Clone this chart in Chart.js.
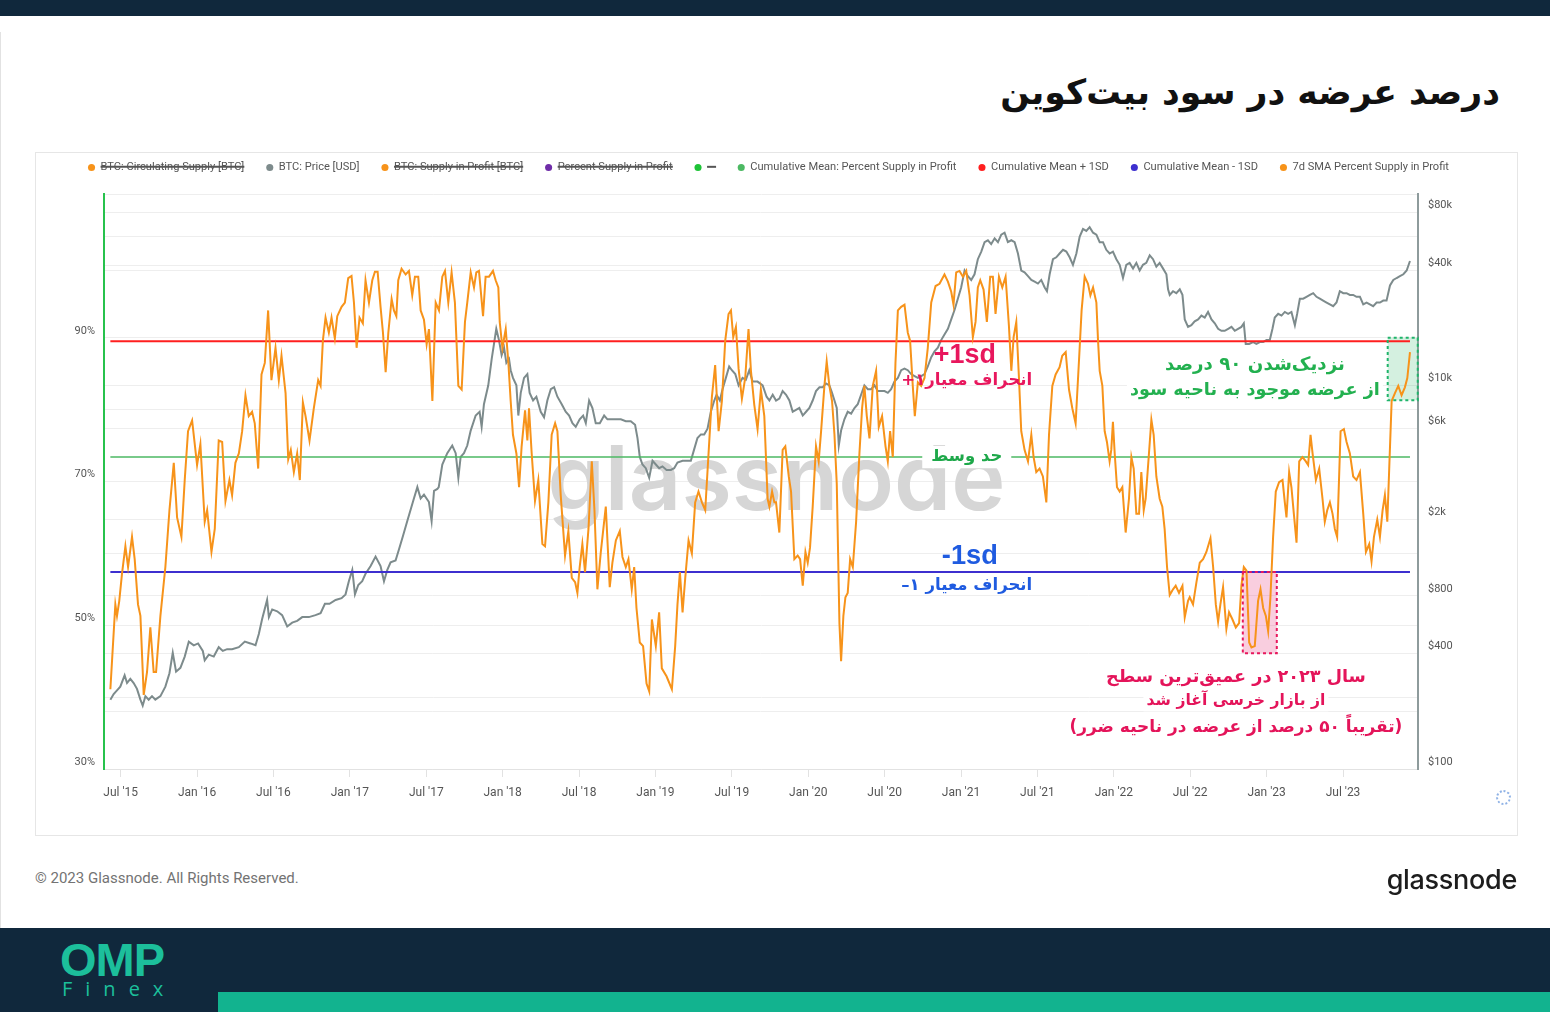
<!DOCTYPE html>
<html lang="fa">
<head>
<meta charset="utf-8">
<title>درصد عرضه در سود بیت‌کوین</title>
<script src="https://cdn.jsdelivr.net/npm/chart.js@4.4.1/dist/chart.umd.min.js"></script>
<style>
  html, body { margin: 0; padding: 0; }
  body { width: 1550px; height: 1012px; position: relative; overflow: hidden; background: #fff; font-family: Roboto, "DejaVu Sans", sans-serif; }
  #topbar { position: absolute; left: 0; top: 0; width: 1550px; height: 16px; background: #10283c; }
  #edge { position: absolute; left: 0; top: 32px; width: 1px; height: 896px; background: #e2e2e2; }
  #title { position: absolute; right: 50px; top: 62px; height: 60px; line-height: 60px; direction: rtl; font-family: "DejaVu Sans", sans-serif; font-weight: bold; font-size: 34px; color: #111; white-space: nowrap; }
  #frame { position: absolute; left: 35px; top: 152px; width: 1481px; height: 682px; border: 1px solid #e6e6e6; }
  #chart { position: absolute; left: 35px; top: 140px; width: 1482px; height: 695px; }
  #spin { position: absolute; left: 1496px; top: 790px; width: 11px; height: 11px; border: 2px dotted #8fb2e6; border-radius: 50%; }
  #copy { position: absolute; left: 35px; top: 868px; font-family: Roboto, sans-serif; font-size: 15px; line-height: 20px; color: #737373; }
  #gn { position: absolute; right: 33px; top: 863px; font-family: Inter, sans-serif; font-weight: 500; font-size: 27px; line-height: 34px; color: #1d1d1d; letter-spacing: -0.3px; }
  #bottom { position: absolute; left: 0; top: 928px; width: 1550px; height: 84px; background: #10283c; }
  #teal { position: absolute; left: 218px; top: 992px; width: 1332px; height: 20px; background: #12b38f; }
  #omp { position: absolute; left: 60px; top: 936px; color: #1cbf9b; font-family: "Liberation Sans", sans-serif; font-weight: bold; font-size: 47px; line-height: 48px; letter-spacing: -1px; }
  #finex { position: absolute; left: 62px; top: 977px; color: #1cbf9b; font-family: "Open Sans", sans-serif; font-size: 20px; line-height: 24px; letter-spacing: 13px; }
</style>
</head>
<body>
<div id="topbar"></div>
<div id="edge"></div>
<div id="title">درصد عرضه در سود بیت‌کوین</div>
<div id="frame"></div>
<canvas id="chart" width="1482" height="695"></canvas>
<div id="spin"></div>
<div id="copy">© 2023 Glassnode. All Rights Reserved.</div>
<div id="gn">glassnode</div>
<div id="bottom"></div>
<div id="teal"></div>
<div id="omp">OMP</div>
<div id="finex">Finex</div>

<script>
// ---------------- DATA ----------------
// x values are months since 1 Jan 2015 (6 = Jul '15, 12 = Jan '16 ...)
const xTickMonths = [6, 12, 18, 24, 30, 36, 42, 48, 54, 60, 66, 72, 78, 84, 90, 96, 102];
const xTickLabels = ["Jul '15", "Jan '16", "Jul '16", "Jan '17", "Jul '17", "Jan '18", "Jul '18", "Jan '19", "Jul '19",
                     "Jan '20", "Jul '20", "Jan '21", "Jul '21", "Jan '22", "Jul '22", "Jan '23", "Jul '23"];
const leftTicks = [30, 40, 50, 60, 70, 80, 90, 100, 110];
const leftTickLabels = { 30: '30%', 50: '50%', 70: '70%', 90: '90%' };
const rightTicks = [100, 200, 400, 800, 2000, 6000, 10000, 40000, 60000, 80000];
const rightTickLabels = { 100: '$100', 400: '$400', 800: '$800', 2000: '$2k', 6000: '$6k', 10000: '$10k', 40000: '$40k', 80000: '$80k' };

// 7d SMA Percent Supply in Profit  [month, percent]
const smaPoints = [
 [5.19,41.1],[5.58,52.9],[5.71,51.3],[5.89,53.4],[6.10,57.1],[6.37,61.0],[6.58,58.1],[6.89,62.3],[7.10,59.2],[7.36,52.9],
 [7.55,51.3],[7.81,40.3],[8.07,43.5],[8.33,49.7],[8.59,43.5],[8.78,43.5],[9.12,51.3],[9.51,58.1],[9.83,66.0],[10.17,72.6],
 [10.43,65.0],[10.77,62.3],[11.03,70.2],[11.29,77.0],[11.61,78.5],[12.00,72.3],[12.26,75.2],[12.60,64.4],[12.79,66.0],[13.13,60.2],
 [13.39,63.4],[13.70,75.7],[13.97,75.5],[14.23,67.3],[14.54,70.2],[14.75,68.1],[15.01,72.6],[15.28,73.9],[15.54,77.0],[15.80,82.0],
 [16.06,79.1],[16.32,79.7],[16.53,78.1],[16.80,71.8],[17.06,84.9],[17.32,86.5],[17.58,93.8],[17.84,84.1],[18.16,88.6],[18.42,84.1],
 [18.63,87.5],[18.95,82.3],[19.16,73.1],[19.36,74.4],[19.60,71.3],[19.86,73.9],[20.07,70.2],[20.31,81.0],[20.52,79.1],[20.83,75.7],
 [21.17,80.2],[21.51,84.1],[21.70,83.3],[21.88,89.6],[22.09,92.8],[22.35,90.7],[22.56,92.8],[22.82,89.9],[23.01,93.0],[23.35,94.3],
 [23.61,94.9],[23.87,98.3],[24.13,98.6],[24.32,94.9],[24.53,88.6],[24.76,92.8],[25.02,92.0],[25.23,98.0],[25.50,94.9],[25.76,98.0],
 [25.97,99.2],[26.18,99.2],[26.41,94.3],[26.60,90.7],[26.81,85.2],[27.02,90.7],[27.28,95.4],[27.46,93.8],[27.65,93.0],[27.80,98.0],
 [28.06,99.6],[28.38,98.8],[28.64,99.3],[28.90,95.9],[29.11,98.5],[29.37,98.5],[29.56,93.8],[29.82,92.5],[30.03,89.1],[30.21,91.2],
 [30.48,81.2],[30.74,94.9],[31.00,93.8],
 [31.26,98.5],[31.47,99.3],[31.73,94.9],[31.99,99.1],[32.25,94.9],[32.52,83.3],[32.78,82.8],[33.04,92.2],[33.22,94.9],[33.49,99.1],
 [33.75,97.0],[33.93,99.1],[34.14,99.3],[34.46,93.0],[34.66,98.5],[34.93,98.5],[35.24,99.3],[35.45,98.0],[35.66,97.0],[35.77,92.2],
 [35.98,88.6],[36.24,91.2],[36.45,86.5],[36.63,81.2],[36.81,76.5],[37.08,73.9],[37.29,69.2],[37.49,74.9],[37.76,79.9],[37.94,75.7],
 [38.07,80.2],[38.28,73.9],[38.54,67.3],[38.80,70.2],[39.12,61.3],[39.33,61.0],[39.59,67.1],[39.85,76.5],[40.12,78.1],[40.30,77.0],
 [40.56,68.1],[40.90,59.7],[41.16,63.1],[41.43,56.6],[41.69,56.0],[41.87,54.5],[42.05,58.1],[42.26,61.3],[42.47,57.4],[42.74,63.4],
 [43.00,72.8],[43.21,66.0],[43.44,55.0],[43.71,60.2],[44.10,66.5],[44.41,55.3],[44.62,58.7],[44.89,61.8],[45.20,63.1],[45.41,59.5],
 [45.67,58.1],[45.88,59.2],[46.14,55.0],[46.33,58.1],[46.51,52.4],[46.77,47.6],[47.03,47.1],[47.30,41.9],[47.51,40.8],[47.72,50.8],
 [48.03,47.1],[48.29,51.8],[48.50,44.0],[48.87,42.9],[49.29,41.1],[49.55,47.1],[49.73,52.9],[49.92,57.4],[50.13,51.8],[50.34,56.6],
 [50.60,61.8],[50.86,60.0],[51.12,67.1],[51.38,68.6],[51.65,67.1],[51.91,66.0],[52.17,73.9],[52.43,81.7],[52.69,86.2],[52.96,77.0],
 [53.22,81.2],[53.48,89.6],[53.74,93.3],[53.93,93.8],[54.11,90.1],[54.32,91.5],[54.53,85.7],[54.79,81.5],[55.05,84.4],[55.31,91.2],
 [55.50,85.4],[55.76,80.7],[56.02,77.3],[56.28,82.8],[56.55,79.1],[56.81,67.6],
 [56.95,66.5],[57.16,68.6],[57.34,67.1],[57.47,67.1],[57.73,62.9],[57.99,74.4],[58.20,74.9],[58.47,70.7],[58.65,68.6],[58.91,59.2],
 [59.17,59.7],[59.36,59.2],[59.57,55.5],[59.78,60.2],[59.96,58.7],[60.14,60.8],[60.35,66.5],[60.61,74.9],[60.82,72.8],[61.01,77.0],
 [61.27,83.3],[61.45,86.7],[61.66,83.3],[61.87,81.2],[62.06,76.5],[62.24,69.7],[62.45,50.3],[62.58,45.0],[62.76,51.3],[62.92,53.9],
 [63.10,54.5],[63.29,59.2],[63.50,58.1],[63.76,64.4],[64.02,73.9],[64.23,80.2],[64.41,83.3],[64.60,79.1],[64.81,76.0],[65.07,83.3],
 [65.33,85.4],[65.54,77.6],[65.80,79.1],[66.07,74.9],[66.25,72.8],[66.43,77.0],[66.64,73.4],[66.85,86.5],[67.04,93.8],[67.30,94.3],
 [67.56,94.6],[67.82,90.7],[68.00,89.6],[68.21,83.3],[68.37,79.1],[68.61,83.8],[68.87,83.3],[69.13,84.4],[69.39,88.6],[69.66,94.9],
 [70.00,97.2],[70.31,97.5],[70.70,98.8],[70.97,97.8],[71.23,96.4],[71.41,94.6],[71.62,99.1],[71.88,99.3],[72.15,98.5],[72.41,99.3],
 [72.67,95.9],[72.93,90.1],[73.14,92.2],[73.32,97.0],[73.51,98.0],[73.77,96.7],[74.03,92.2],[74.29,98.5],[74.50,98.5],[74.71,93.3],
 [74.98,98.5],[75.24,97.0],[75.50,98.5],[75.76,91.7],[75.95,85.4],[76.13,90.1],[76.34,92.2],[76.55,84.4],[76.73,77.0],[76.99,74.4],
 [77.26,72.8],[77.52,76.5],[77.70,73.4],[77.91,71.3],[78.17,71.8],[78.43,70.7],[78.70,67.1],[78.91,76.5],[79.17,83.3],[79.43,84.9],
 [79.74,85.9],[79.95,87.5],[80.22,88.0],[80.48,82.8],[80.74,80.2],[81.00,78.1],[81.27,87.0],[81.47,93.8],[81.71,98.5],[81.97,97.5],
 [82.16,95.9],[82.37,97.0],[82.63,94.9],
 [82.76,89.6],[82.89,85.4],[83.10,83.3],[83.28,77.0],[83.46,75.5],[83.67,72.8],[83.80,74.4],[83.93,78.3],[84.07,73.9],[84.25,69.2],
 [84.46,68.6],[84.67,69.2],[84.93,62.9],[85.19,67.6],[85.38,73.4],[85.56,71.8],[85.77,65.5],[85.98,65.5],[86.16,71.3],[86.35,66.0],
 [86.50,67.6],[86.76,73.9],[86.95,78.6],[87.13,76.5],[87.34,70.7],[87.60,67.6],[87.81,66.5],[87.99,63.4],[88.18,58.1],[88.39,54.2],
 [88.65,55.0],[88.86,55.5],[89.12,54.5],[89.39,55.5],[89.57,51.1],[89.83,53.4],[89.96,53.9],[90.22,52.9],[90.49,56.0],[90.75,58.7],
 [91.01,59.2],[91.27,60.2],[91.59,62.1],[91.80,58.1],[92.01,52.9],[92.19,50.5],[92.37,52.9],[92.58,55.3],[92.84,49.5],[93.05,51.8],
 [93.32,50.8],[93.58,49.7],[93.84,50.3],[94.02,55.5],[94.21,58.1],[94.42,57.6],[94.63,47.6],[94.81,46.9],[95.07,47.1],[95.33,53.4],
 [95.52,55.0],[95.73,52.4],[95.94,51.3],[96.12,49.2],[96.30,53.9],[96.51,62.3],[96.72,68.6],[96.98,69.9],[97.25,70.2],[97.43,67.1],
 [97.56,65.0],[97.77,71.3],[97.95,69.2],[98.14,65.5],[98.35,61.5],[98.56,72.8],[98.82,73.4],[99.08,72.8],[99.26,72.3],[99.45,76.5],
 [99.61,73.9],[99.87,70.2],[100.13,71.8],[100.39,67.6],[100.57,64.4],[100.76,66.0],[100.97,67.1],[101.18,65.5],[101.36,63.4],[101.54,62.3],
 [101.81,77.0],[102.07,77.3],[102.28,75.5],[102.54,73.9],[102.80,70.7],[103.06,70.2],[103.33,71.3],[103.59,65.5],[103.80,60.2],[104.06,61.3],
 [104.24,58.9],[104.43,62.3],[104.69,64.7],[104.90,62.3],[105.11,66.0],[105.29,68.1],[105.48,64.4],[105.63,71.8],[105.82,81.2],[106.08,82.3],
 [106.34,83.3],[106.60,82.0],[106.86,83.1],[107.05,84.4],[107.26,88.0]
];

// BTC: Price [USD]  [month, USD]
const pricePoints = [
 [5.19,230],[5.45,246],[5.71,257],[5.97,269],[6.31,308],[6.50,281],[6.76,295],[7.02,281],[7.28,262],[7.55,230],
 [7.73,214],[7.94,240],[8.20,230],[8.46,240],[8.72,230],[9.12,240],[9.51,269],[9.83,316],[10.09,404],[10.35,322],
 [10.69,337],[11.03,386],[11.35,462],[11.74,442],[12.08,452],[12.45,413],[12.60,369],[12.92,395],[13.31,386],[13.70,432],
 [14.02,413],[14.36,422],[14.75,422],[15.28,432],[15.75,462],[16.19,452],[16.59,442],[16.85,506],[17.11,606],[17.50,762],
 [17.64,620],[17.90,680],[18.29,665],[18.68,635],[19.08,554],[19.47,580],[19.86,593],[20.26,620],[20.78,620],[21.30,635],
 [21.70,650],[22.04,727],[22.40,727],[22.88,762],[23.35,779],[23.66,815],[23.92,954],[24.19,1093],[24.40,815],[24.66,912],
 [24.97,954],[25.23,1044],[25.63,1145],[26.02,1282],[26.41,1145],[26.68,954],[26.94,1093],[27.20,1197],[27.59,1224],[27.86,1402],
 [28.17,1643],[28.51,1967],[28.77,2253],[29.03,2581],[29.30,2956],[29.56,2581],[29.82,2702],[30.21,2470],[30.42,1967],[30.61,2829],
 [30.87,2890],[30.98,2956],[31.26,3879],[31.65,4443],[32.04,4871],[32.31,4443],[32.52,3309],[32.70,4248],[32.96,4443],[33.22,4871],
 [33.49,5830],[33.88,6985],[34.19,7310],[34.35,6099],[34.53,8005],[34.87,10040],[35.14,13790],[35.32,16520],[35.50,19800],[35.71,17290],
 [35.92,14420],[36.11,15790],[36.29,13160],[36.50,13790],[36.63,12040],[36.81,10980],[37.08,10040],[37.23,6985],[37.42,9172],[37.68,10980],
 [37.94,11500],[38.12,9172],[38.39,8367],[38.65,8758],[38.99,7310],[39.25,6834],[39.51,8367],[39.78,9585],[40.04,9814],[40.30,8758],
 [40.64,8005],[40.95,7310],[41.22,6985],[41.48,6376],[41.74,6099],[42.05,6677],[42.32,6985],[42.53,6376],[42.79,8367],[43.05,7649],
 [43.31,6376],[43.63,6376],[43.97,6985],[44.23,6677],[44.57,6677],[44.89,6677],[45.28,6677],[45.67,6526],[46.06,6526],[46.40,6246],
 [46.59,5328],[46.77,4248],[46.98,3879],[47.24,3712],[47.51,3309],[47.77,4058],[48.03,3879],[48.29,3712],[48.55,3793],[48.87,3631],
 [49.21,3631],[49.47,3712],[49.73,3971],[50.13,4058],[50.52,4058],[50.78,4058],[51.04,4652],[51.30,5328],[51.57,5567],[51.83,5567],
 [52.09,5962],[52.35,7310],[52.62,8367],[52.80,8965],[53.06,8367],[53.27,9585],[53.53,10980],[53.79,12590],[54.00,12040],[54.27,11500],
 [54.53,10040],[54.84,10980],[55.10,10730],[55.37,12040],[55.63,10500],[56.02,10500],[56.42,10040],[56.73,8758],[56.95,8367],[57.21,8965],
 [57.47,8367],[57.73,8563],[57.99,9368],[58.26,8965],[58.52,8367],[58.78,7310],[59.04,7475],[59.30,7649],[59.57,6985],[59.83,7310],
 [60.09,7649],[60.35,8367],[60.61,9368],[60.88,9814],[61.14,9814],[61.40,10270],[61.66,10040],[61.87,9172],[62.06,8367],[62.24,7649],
 [62.40,4871],[62.58,5830],[62.84,6677],[63.10,7310],[63.37,7148],[63.63,7649],[63.89,8005],[64.15,8965],[64.41,10040],[64.68,9585],
 [64.94,9585],[65.20,10040],[65.46,9368],[65.72,9368],[65.99,9368],[66.25,9172],[66.51,9585],[66.77,10500],[67.04,10980],[67.30,12040],
 [67.56,12290],[67.82,12040],[68.08,11500],[68.35,11230],[68.61,10980],[68.87,11230],[69.13,11500],[69.39,12590],[69.66,14090],[69.92,15090],
 [70.18,15790],[70.44,17290],[70.70,18490],[70.97,19800],[71.23,22160],[71.49,24820],[71.75,28420],[72.01,32550],[72.28,39880],[72.54,37260],
 [72.80,35610],[73.06,38120],[73.32,45690],[73.59,50050],[73.85,56090],[74.11,57360],[74.37,54780],[74.64,58700],[74.90,56090],[75.16,61360],
 [75.42,62800],[75.68,56090],[75.95,57360],[76.21,56090],[76.47,48930],[76.73,39880],[76.99,39030],[77.26,37260],[77.52,35610],[77.78,34850],
 [78.04,34090],[78.30,35610],[78.57,32550],[78.75,31100],[78.96,38120],[79.22,45690],[79.48,46730],[79.74,48930],[80.01,51140],[80.27,50050],
 [80.53,46730],[80.79,42710],[81.06,48930],[81.32,59930],[81.58,65690],[81.84,64210],[82.10,67140],[82.37,62800],[82.63,61360],[82.89,56090],
 [83.15,56090],[83.41,51140],[83.67,48930],[83.93,50050],[84.20,45690],[84.46,42710],[84.72,36450],[84.98,42710],[85.24,43720],[85.51,40800],
 [85.77,43720],[86.03,39880],[86.29,42710],[86.55,43720],[86.82,47820],[87.08,45690],[87.34,41750],[87.60,43720],[87.87,40800],[88.13,38120],
 [88.26,31810],[88.39,29760],[88.65,31100],[88.91,30390],[89.18,31810],[89.39,29760],[89.57,22160],[89.83,20260],[90.09,20680],[90.35,21640],
 [90.62,22160],[90.88,23210],[91.14,22670],[91.40,24260],[91.67,22160],[91.93,21160],[92.19,19800],[92.45,19340],[92.71,19340],[92.98,19800],
 [93.24,20260],[93.50,19340],[93.76,19800],[94.02,20260],[94.21,21160],[94.36,16520],[94.63,16520],[94.94,16890],[95.20,16520],[95.47,16890],
 [95.73,16890],[95.99,17290],[96.25,17290],[96.46,19800],[96.64,22670],[96.91,23720],[97.17,23210],[97.43,24260],[97.69,23720],[97.95,24260],
 [98.22,20680],[98.40,23720],[98.61,28420],[98.87,28420],[99.13,29080],[99.40,29760],[99.66,30390],[99.92,29080],[100.18,28420],[100.44,27780],
 [100.71,27150],[100.97,26580],[101.23,25980],[101.49,27150],[101.75,31100],[102.02,30390],[102.28,30390],[102.54,29760],[102.80,29760],[103.06,29080],
 [103.33,29080],[103.59,26580],[103.85,27150],[104.11,26580],[104.37,25980],[104.64,27150],[104.90,27150],[105.16,27780],[105.42,27780],[105.69,33320],
 [105.95,35610],[106.21,36450],[106.47,37260],[106.74,38120],[107.00,39880],[107.26,44730]
];

// Cumulative mean lines (flat over the full range)
const meanMonths = [5.19, 107.26];
const meanValues = [73.4, 73.4];
const meanPlusValues = [89.5, 89.5];
const meanMinusValues = [57.4, 57.4];

// Highlight boxes [month from, month to, % low, % high]
const pinkBox = [94.13, 96.80, 46.1, 57.4];
const greenBox = [105.51, 107.87, 81.3, 90.0];

// Annotations (position in month / percent)
const notes = [
  { x: 72.30, y: 87.5, text: '+1sd', color: '#e8175d', w: 62, latin: true },
  { x: 72.45, y: 84.0, text: 'انحراف معیار۱+', color: '#e8175d', w: 131 },
  { x: 72.45, y: 73.4, text: 'حد وسط', color: '#1ea84a', w: 71, bg: true, pad: 9 },
  { x: 72.69, y: 59.5, text: '-1sd', color: '#1f5be0', w: 56, latin: true },
  { x: 72.45, y: 55.5, text: 'انحراف معیار ۱–', color: '#1f5be0', w: 131 },
  { x: 95.08, y: 86.2, text: 'نزدیک‌شدن ۹۰ درصد', color: '#22b04f', w: 180, bg: true, pad: 3 },
  { x: 95.08, y: 82.7, text: 'از عرضه موجود به ناحیه سود', color: '#22b04f', w: 250, bg: true, pad: 3 },
  { x: 93.59, y: 42.8, text: 'سال ۲۰۲۳ در عمیق‌ترین سطح', color: '#e4145a', w: 260, bg: true, pad: 3 },
  { x: 93.59, y: 39.5, text: 'از بازار خرسی آغاز شد', color: '#e4145a', w: 179, bg: true, pad: 3 },
  { x: 93.59, y: 35.8, text: '(تقریباً ۵۰ درصد از عرضه در ناحیه ضرر)', color: '#e4145a', w: 333, bg: true, pad: 3 }
];

// ---------------- TITLE FIT ----------------
(function () {
  const t = document.getElementById('title');
  const w = t.getBoundingClientRect().width;
  t.style.fontSize = (34 * 500 / w) + 'px';
})();

// ---------------- CHART ----------------
const ORANGE = '#f7931a', GREY = '#7d8b8c';
const toXY = pts => pts.map(p => ({ x: p[0], y: p[1] }));
const meanXY = vals => meanMonths.map((m, i) => ({ x: m, y: vals[i] }));

Chart.defaults.font.family = 'Roboto, "DejaVu Sans", sans-serif';

const legendHeight = {
  id: 'legendHeight',
  beforeLayout(chart) {
    const lg = chart.legend;
    if (lg && !lg._fixedH) {
      const orig = lg.fit;
      lg.fit = function () { orig.call(this); this.height = 54; };
      lg._fixedH = true;
    }
  }
};

const WATERMARK = { text: 'glassnode', cx: 741.5, baseline: 370, width: 458, size: 90, color: '#d6d6d6' };

const decor = {
  id: 'decor',
  beforeDatasetsDraw(chart) {
    const { ctx, chartArea: a, scales } = chart;
    const X = v => scales.x.getPixelForValue(v), Y = v => scales.yL.getPixelForValue(v);
    ctx.save();
    ctx.beginPath(); ctx.rect(a.left, a.top, a.right - a.left, a.bottom - a.top); ctx.clip();
    // watermark
    ctx.save();
    ctx.font = `600 ${WATERMARK.size}px Inter`;
    const w = ctx.measureText(WATERMARK.text).width;
    ctx.translate(WATERMARK.cx, WATERMARK.baseline);
    ctx.scale(WATERMARK.width / w, 1);
    ctx.fillStyle = WATERMARK.color;
    ctx.textAlign = 'center'; ctx.textBaseline = 'alphabetic';
    ctx.fillText(WATERMARK.text, 0, 0);
    ctx.restore();
    // box fills
    const fills = [[pinkBox, 'rgba(235,80,140,0.28)'], [greenBox, 'rgba(40,180,100,0.2)']];
    for (const [b, c] of fills) {
      ctx.fillStyle = c;
      ctx.fillRect(X(b[0]), Y(b[3]), X(b[1]) - X(b[0]), Y(b[2]) - Y(b[3]));
    }
    ctx.restore();
  },
  afterDatasetsDraw(chart) {
    const { ctx, scales } = chart;
    const X = v => scales.x.getPixelForValue(v), Y = v => scales.yL.getPixelForValue(v);
    ctx.save();
    // dotted borders
    const borders = [[pinkBox, '#e8175d'], [greenBox, '#1fb46a']];
    for (const [b, c] of borders) {
      ctx.strokeStyle = c; ctx.lineWidth = 2; ctx.setLineDash([3, 3]);
      ctx.strokeRect(X(b[0]), Y(b[3]), X(b[1]) - X(b[0]), Y(b[2]) - Y(b[3]));
    }
    ctx.setLineDash([]);
    // notes
    const prepared = notes.map(n => {
      const fam = n.latin ? '"Liberation Sans", Arial, sans-serif' : '"DejaVu Sans", sans-serif';
      ctx.font = `bold 20px ${fam}`;
      ctx.direction = n.latin ? 'ltr' : 'rtl';
      const size = 20 * n.w / ctx.measureText(n.text).width;
      return { n, fam, size, px: X(n.x), py: Y(n.y) };
    });
    for (const p of prepared) {
      if (!p.n.bg) continue;
      const pad = p.n.pad || 3;
      ctx.fillStyle = '#ffffff';
      ctx.fillRect(p.px - p.n.w / 2 - pad, p.py - p.size * 0.68, p.n.w + 2 * pad, p.size * 1.36);
    }
    for (const p of prepared) {
      ctx.font = `bold ${p.size}px ${p.fam}`;
      ctx.direction = p.n.latin ? 'ltr' : 'rtl';
      ctx.textAlign = 'center'; ctx.textBaseline = 'middle';
      ctx.fillStyle = p.n.color;
      ctx.fillText(p.n.text, p.px, p.py);
    }
    ctx.restore();
  }
};

const line = (label, data, color, extra) => Object.assign({
  label, data, borderColor: color, backgroundColor: color, borderWidth: 2,
  pointRadius: 0, pointHoverRadius: 0, tension: 0, fill: false, yAxisID: 'yL'
}, extra || {});

new Chart(document.getElementById('chart'), {
  type: 'line',
  data: {
    datasets: [
      line('BTC: Circulating Supply [BTC]', [], ORANGE, { hidden: true }),
      line('BTC: Price [USD]', toXY(pricePoints), GREY, { yAxisID: 'yR', order: 3 }),
      line('BTC: Supply in Profit [BTC]', [], ORANGE, { hidden: true }),
      line('Percent Supply in Profit', [], '#6f2da8', { hidden: true }),
      line('—', [], '#1ec337', { hidden: true }),
      line('Cumulative Mean: Percent Supply in Profit', meanXY(meanValues), '#4cb963', { borderWidth: 1.5, order: 2 }),
      line('Cumulative Mean + 1SD', meanXY(meanPlusValues), '#ff1f1f', { order: 2 }),
      line('Cumulative Mean - 1SD', meanXY(meanMinusValues), '#3d2fcf', { order: 2 }),
      line('7d SMA Percent Supply in Profit', toXY(smaPoints), ORANGE, { order: 1 })
    ]
  },
  options: {
    responsive: false,
    animation: false,
    devicePixelRatio: 1,
    layout: { padding: { left: 0, right: 15, top: 0, bottom: 0 } },
    plugins: {
      tooltip: { enabled: false },
      legend: {
        position: 'top',
        align: 'center',
        labels: {
          usePointStyle: true,
          pointStyle: 'circle',
          boxWidth: 7,
          boxHeight: 5,
          padding: 22,
          color: '#555555',
          font: { size: 11.1, family: 'Roboto, sans-serif' },
          sort: (a, b) => a.datasetIndex - b.datasetIndex,
          generateLabels(chart) {
            const items = Chart.defaults.plugins.legend.labels.generateLabels(chart);
            items.forEach(it => { it.lineWidth = 0; it.pointStyle = 'circle'; });
            return items;
          }
        }
      }
    },
    scales: {
      x: {
        type: 'linear',
        min: 4.69,
        max: 107.89,
        afterBuildTicks(s) { s.ticks = xTickMonths.map(v => ({ value: v })); },
        afterFit(s) { s.height = 66; },
        ticks: {
          autoSkip: false, maxRotation: 0, padding: 9, color: '#555', font: { size: 12 },
          callback: v => xTickLabels[xTickMonths.indexOf(v)] || ''
        },
        grid: { drawOnChartArea: false, drawTicks: true, tickLength: 8, color: '#e2e2e2' },
        border: { display: true, color: '#e2e2e2', width: 1 }
      },
      yL: {
        type: 'linear',
        position: 'left',
        min: 30,
        max: 110,
        afterBuildTicks(s) { s.ticks = leftTicks.map(v => ({ value: v })); },
        afterFit(s) { s.width = 69; },
        ticks: {
          padding: 9, labelOffset: -7, color: '#555', font: { size: 11 },
          callback: v => leftTickLabels[v] || ''
        },
        grid: { drawTicks: false, color: '#eeeeee', lineWidth: 1 },
        border: { display: true, color: '#27c24c', width: 2 }
      },
      yR: {
        type: 'logarithmic',
        position: 'right',
        min: 100,
        max: 100000,
        afterBuildTicks(s) { s.ticks = rightTicks.map(v => ({ value: v })); },
        afterFit(s) { s.width = 84; },
        ticks: {
          padding: 10, labelOffset: -7, color: '#555', font: { size: 11 },
          callback: v => rightTickLabels[v] || ''
        },
        grid: { drawTicks: false, color: '#eeeeee', lineWidth: 1 },
        border: { display: true, color: '#8e9b9c', width: 2 }
      }
    }
  },
  plugins: [legendHeight, decor]
});
</script>
</body>
</html>
